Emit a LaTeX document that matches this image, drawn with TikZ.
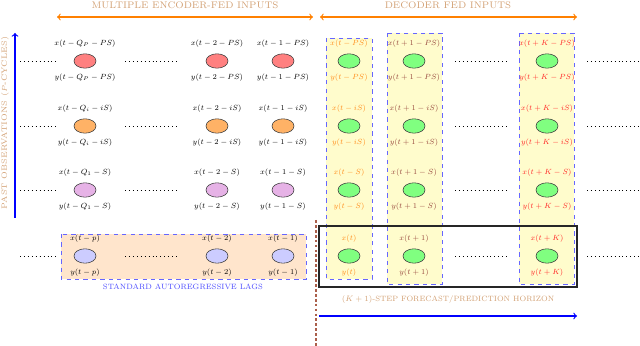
\documentclass[tikz,border=0pt]{standalone}
\usepackage{amsmath,amssymb}
\usepackage{graphicx}
\usepackage{xcolor}
\usepackage{tikz}
\usetikzlibrary{shapes.geometric,positioning}

\definecolor{headtan}{RGB}{210,160,115}
\definecolor{cutbrown}{RGB}{170,95,75}
\definecolor{lagred}{RGB}{255,128,128}
\definecolor{lagorange}{RGB}{255,178,102}
\definecolor{lagviolet}{RGB}{230,178,230}
\definecolor{lagblue}{RGB}{204,204,255}
\definecolor{fcgreen}{RGB}{128,255,128}
\definecolor{colbrown}{RGB}{150,70,60}

% small labels: scaled scriptsize math
\newcommand{\lagtxt}[1]{\scalebox{0.76}{$#1$}}

\tikzset{
  obs/.style={ellipse,draw=black!75,fill=#1,minimum width=0.55cm,minimum height=0.36cm,inner sep=0pt},
  lbl/.style={font=\scriptsize,inner sep=0pt},
  head/.style={font=\fontsize{6.8}{8}\selectfont,text=headtan,inner sep=0pt},
  dotline/.style={line width=0.6pt,dash pattern=on 0.6pt off 2.2pt},
  stepcol/.style={draw=blue!60,dashed,fill=yellow!20},
}

\begin{document}
\begin{tikzpicture}[x=0.025cm,y=-0.025cm]
        \useasboundingbox (0,0) rectangle (640,346);
        % shaded columns and boxes
        \draw[stepcol] (326,38) rectangle (372,279);
        \draw[stepcol] (387,33) rectangle (442,284);
        \draw[stepcol] (519,33) rectangle (574,284);
        \draw[dashed,draw=blue!60,fill=orange!20] (61,234) rectangle (306,279);
        \draw[very thick,black!85] (319,226) rectangle (577,287);
        \draw[cutbrown,line width=1.2pt,dash pattern=on 2pt off 1.5pt] (316,220) -- (316,346);
        % headings
        \node[head] (enc) at (185,5) {MULTIPLE ENCODER-FED INPUTS};
        \node[head] (dec) at (448,5) {DECODER FED INPUTS};
        \coordinate (encL) at (57,17);  \coordinate (encR) at (313,17);
        \coordinate (decL) at (320,17); \coordinate (decR) at (577,17);
        \draw[<->,thick,orange] (encL) -- (encR);
        \draw[<->,thick,orange] (decL) -- (decR);
        \node[head,rotate=90,font=\fontsize{5.4}{7}\selectfont] (past) at (5,123) {PAST OBSERVATIONS ($P$-CYCLES)};
        \coordinate (pastB) at (15,218); \coordinate (pastT) at (15,33);
        \draw[->,thick,blue] (pastB) -- (pastT);
        \node[head,text=blue!70] (std) at (183,287) {\scalebox{0.8}{STANDARD AUTOREGRESSIVE LAGS}};
        \node[head] (hor) at (448,300) {\scalebox{0.8}{$(K+1)$-STEP FORECAST/PREDICTION HORIZON}};
        \coordinate (horL) at (319,316); \coordinate (horR) at (577,316);
        \draw[->,thick,blue] (horL) -- (horR);
        % lag rows
        \foreach \yy/\col/\q/\s [count=\r] in {61/lagred/Q_P/-PS,126/lagorange/Q_i/-iS,190/lagviolet/Q_1/-S,256/lagblue/p/{}}{
            \node[obs=\col] (a\r) at (85,\yy) {};
            \node[obs=\col] (b\r) at (217,\yy) {};
            \node[obs=\col] (c\r) at (283,\yy) {};
            \node[lbl,text=black] (xa\r) at (85,\yy-17) {\lagtxt{x(t-\q\s)}};
            \node[lbl,text=black] (ya\r) at (85,\yy+17) {\lagtxt{y(t-\q\s)}};
            \node[lbl,text=black] (xb\r) at (217,\yy-17) {\lagtxt{x(t-2\s)}};
            \node[lbl,text=black] (yb\r) at (217,\yy+17) {\lagtxt{y(t-2\s)}};
            \node[lbl,text=black] (xc\r) at (283,\yy-17) {\lagtxt{x(t-1\s)}};
            \node[lbl,text=black] (yc\r) at (283,\yy+17) {\lagtxt{y(t-1\s)}};
            \node[obs=fcgreen] (d\r) at (349,\yy) {};
            \node[obs=fcgreen] (e\r) at (414,\yy) {};
            \node[obs=fcgreen] (f\r) at (547,\yy) {};
            \node[lbl,text=orange!90] (xd\r) at (349,\yy-17) {\lagtxt{x(t\s)}};
            \node[lbl,text=orange!90] (yd\r) at (349,\yy+17) {\lagtxt{y(t\s)}};
            \node[lbl,text=colbrown] (xe\r) at (414,\yy-17) {\lagtxt{x(t+1\s)}};
            \node[lbl,text=colbrown] (ye\r) at (414,\yy+17) {\lagtxt{y(t+1\s)}};
            \node[lbl,text=red!85] (xf\r) at (547,\yy-17) {\lagtxt{x(t+K\s)}};
            \node[lbl,text=red!85] (yf\r) at (547,\yy+17) {\lagtxt{y(t+K\s)}};
            \draw[dotline] (20,\yy) -- (58,\yy);
            \draw[dotline] (125,\yy) -- (178,\yy);
            \draw[dotline] (455,\yy) -- (508,\yy);
            \draw[dotline] (587,\yy) -- (640,\yy);
        }
    \end{tikzpicture}
\end{document}
